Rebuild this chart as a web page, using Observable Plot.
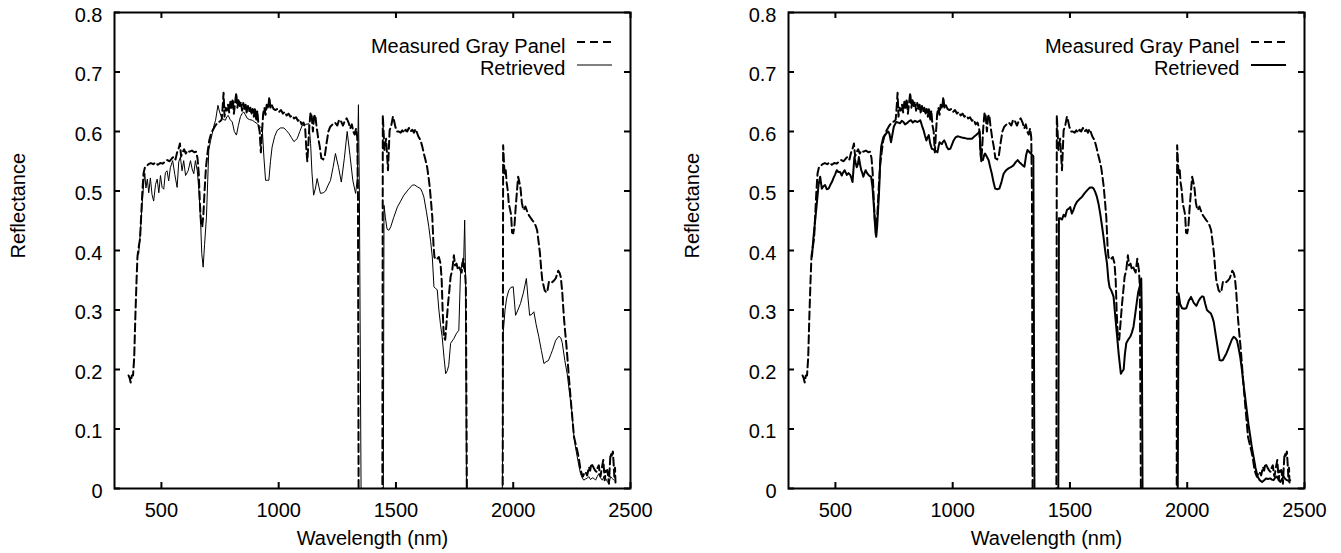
<!DOCTYPE html>
<html><head><meta charset="utf-8">
<script src="https://cdn.jsdelivr.net/npm/d3@7"></script>
<script src="https://cdn.jsdelivr.net/npm/@observablehq/plot@0.6"></script>
<style>
html,body{margin:0;padding:0;background:#fff;overflow:hidden;}
#wrap{position:relative;width:1341px;height:553px;}
#left{position:absolute;left:0;top:0;}
#right{position:absolute;left:674px;top:0;}
</style></head><body><div id="wrap"><div id="left"></div><div id="right"></div></div>
<script>
// Measured Gray Panel (same in both panels); -0.05 marks the water-band drop-outs (clipped)
const measuredWl = [360,365,369,374,379,384,389,394,398,403,409,414,419,424,430,437,445,455,465,475,485,495,505,515,525,535,545,553,560,567,574,579,584,590,597,604,611,620,630,640,648,654,659,664,669,674,679,684,690,697,704,712,720,730,740,750,757,761,765,769,774,779,784,789,794,799,804,809,814,819,824,829,834,839,844,849,854,859,864,869,874,879,884,889,894,899,904,909,914,919,924,929,934,939,944,949,955,960,965,970,978,986,994,1002,1010,1018,1026,1034,1042,1050,1058,1066,1074,1082,1090,1098,1106,1113,1118,1122,1126,1131,1136,1141,1146,1151,1156,1161,1168,1175,1182,1190,1197,1204,1212,1220,1230,1240,1250,1258,1266,1274,1282,1290,1298,1305,1312,1318,1324,1330,1335,1338,1341,
1442,1444,1451,1458,1466,1473,1480,1487,1491,1498,1505,1512,1520,1527,1534,1541,1548,1555,1562,1570,1577,1583,1588,1595,1605,1612,1619,1626,1633,1640,1644,1650,1655,1660,1664,1670,1676,1683,1690,1695,1699,1704,1710,1716,1722,1727,1733,1740,1747,1752,1758,1763,1768,1774,1780,1787,1794,1798,1803,
1955,1957,1963,1968,1972,1977,1981,1986,1991,1995,2000,2005,2010,2014,2018,2021,2026,2031,2037,2043,2048,2052,2060,2067,2074,2081,2091,2097,2102,2108,2114,2119,2124,2130,2134,2140,2145,2152,2160,2167,2175,2181,2187,2192,2198,2203,2209,2216,2221,2226,2232,2237,2243,2249,2254,2259,2266,2273,2280,2287,2292,2297,2302,2308,2315,2323,2328,2333,2339,2344,2350,2355,2360,2365,2369,2372,2378,2384,2388,2390,2395,2401,2405,2408,2412,2415,2420,2425,2429,2431,2434,2436];
const measuredR = [.19,.185,.178,.19,.19,.22,.29,.35,.39,.405,.42,.46,.5,.53,.54,.542,.545,.547,.545,.548,.544,.547,.546,.549,.552,.55,.555,.558,.553,.565,.572,.58,.558,.565,.57,.563,.568,.566,.568,.565,.566,.555,.53,.48,.445,.44,.46,.5,.54,.565,.585,.597,.603,.61,.615,.617,.62,.64,.665,.625,.64,.635,.645,.632,.65,.64,.655,.63,.648,.665,.64,.655,.643,.65,.635,.648,.638,.645,.63,.643,.633,.64,.628,.638,.625,.64,.618,.635,.61,.6,.565,.6,.63,.64,.628,.645,.638,.658,.64,.645,.638,.636,.638,.633,.636,.63,.633,.627,.63,.625,.627,.622,.624,.618,.62,.612,.615,.605,.57,.55,.575,.61,.632,.625,.6,.625,.628,.61,.59,.575,.555,.553,.56,.58,.6,.608,.612,.615,.61,.62,.617,.61,.618,.622,.615,.605,.612,.6,.595,.605,.59,.5,-.05,
-.05,.627,.569,.588,.535,.602,.61,.625,.62,.607,.6,.6,.598,.602,.598,.603,.6,.606,.6,.603,.598,.604,.6,.592,.585,.575,.563,.552,.54,.52,.507,.48,.456,.41,.389,.385,.386,.389,.378,.35,.3,.255,.25,.28,.31,.33,.356,.367,.392,.375,.378,.37,.374,.368,.363,.386,.367,.34,-.05,
-.05,.577,.529,.535,.514,.5,.479,.47,.46,.43,.429,.44,.47,.49,.51,.524,.515,.505,.48,.468,.47,.474,.465,.459,.455,.451,.446,.44,.434,.415,.395,.37,.35,.34,.333,.33,.33,.347,.345,.347,.35,.353,.36,.366,.362,.355,.33,.288,.265,.244,.215,.188,.16,.132,.11,.087,.075,.064,.05,.031,.025,.02,.025,.028,.022,.036,.03,.042,.038,.034,.03,.028,.035,.039,.025,.02,.035,.048,.025,.014,.03,.031,.02,.008,.04,.059,.055,.062,.036,.02,.035,.01];

// Retrieved, left panel
const retrievedLeftWl = [403,410,418,424,429,434,440,446,453,460,467,475,482,489,496,503,510,517,524,531,538,548,557,567,574,581,588,595,603,614,624,631,638,645,653,660,667,672,678,684,692,702,710,717,724,731,741,748,755,765,773,779,785,793,802,811,820,828,837,844,851,858,866,876,887,898,909,920,930,937,944,951,958,965,972,983,994,1008,1022,1032,1043,1054,1065,1079,1090,1100,1115,1129,1136,1142,1149,1157,1164,1171,1178,1190,1200,1211,1221,1232,1242,1255,1267,1280,1292,1304,1316,1323,1328,1335,1340,1344,1352,
1446,1449,1455,1462,1470,1478,1490,1506,1520,1534,1552,1570,1580,1591,1605,1612,1619,1630,1640,1648,1655,1662,1669,1676,1683,1690,1697,1705,1712,1719,1725,1733,1740,1747,1757,1768,1775,1782,1788,1793,1797,1801,
1953,1957,1965,1972,1981,1990,2000,2006,2010,2020,2031,2044,2056,2063,2070,2080,2088,2098,2109,2120,2131,2140,2150,2160,2167,2181,2195,2203,2209,2220,2230,2240,2248,2254,2259,2266,2273,2280,2287,2294,2301,2308,2315,2322,2330,2337,2344,2351,2358,2365,2372,2380,2387,2394,2401,2408,2415,2422,2429];
const retrievedLeftR = [.394,.43,.479,.51,.53,.505,.52,.497,.522,.494,.483,.511,.52,.497,.526,.506,.503,.531,.534,.517,.539,.551,.528,.506,.549,.557,.534,.551,.526,.534,.551,.537,.529,.551,.534,.5,.45,.395,.372,.41,.456,.569,.585,.597,.61,.619,.644,.633,.625,.62,.619,.625,.627,.62,.616,.6,.594,.61,.625,.63,.633,.628,.622,.62,.619,.616,.613,.608,.605,.557,.518,.518,.518,.55,.574,.592,.602,.606,.606,.602,.597,.59,.583,.588,.6,.61,.612,.613,.58,.53,.493,.505,.521,.508,.496,.497,.5,.51,.518,.54,.563,.54,.515,.555,.6,.56,.518,.505,.496,.52,.645,.5,-.05,
-.05,.476,.455,.436,.434,.44,.455,.473,.483,.493,.502,.51,.51,.507,.504,.498,.49,.465,.44,.415,.389,.339,.336,.334,.3,.275,.255,.22,.193,.198,.207,.244,.248,.252,.26,.266,.36,.38,.37,.451,.35,-.05,
-.05,.26,.3,.32,.333,.338,.339,.31,.291,.3,.311,.33,.353,.32,.291,.293,.297,.275,.255,.232,.21,.213,.215,.225,.232,.249,.256,.253,.245,.215,.193,.16,.137,.11,.087,.068,.053,.038,.025,.018,.014,.016,.017,.02,.015,.018,.017,.014,.02,.025,.018,.014,.02,.017,.012,.008,.02,.017,.014];

// Retrieved, right panel
const retrievedRightWl = [400,406,411,416,421,428,435,442,449,456,463,471,478,485,492,499,506,513,520,527,530,539,549,556,563,568,573,581,586,591,596,600,605,610,615,619,624,629,635,641,647,652,658,663,667,671,674,678,681,685,688,691,695,698,705,712,719,726,731,737,743,749,754,759,767,776,783,790,797,805,813,822,830,839,848,855,862,869,876,882,888,893,898,904,911,918,926,935,940,944,949,954,959,964,970,975,982,990,997,1004,1012,1021,1030,1039,1050,1061,1072,1082,1091,1100,1108,1115,1120,1125,1129,1134,1138,1145,1153,1160,1167,1174,1181,1190,1199,1208,1217,1228,1238,1248,1259,1268,1277,1285,1291,1299,1306,1313,1319,1326,1333,1340,1344,1349,
1450,1453,1459,1466,1473,1480,1487,1494,1501,1508,1515,1522,1530,1540,1551,1562,1573,1580,1587,1594,1601,1608,1615,1622,1629,1636,1643,1650,1658,1664,1669,1676,1681,1686,1693,1700,1708,1717,1723,1729,1734,1740,1748,1757,1764,1771,1779,1786,1791,1797,1804,1806,1810,
1959,1963,1970,1978,1987,1996,2006,2016,2028,2039,2048,2056,2064,2070,2077,2084,2092,2101,2107,2113,2120,2127,2133,2138,2145,2152,2160,2167,2174,2181,2190,2198,2205,2212,2219,2226,2233,2240,2247,2254,2261,2269,2276,2283,2291,2300,2309,2319,2328,2337,2345,2354,2361,2368,2375,2382,2390,2397,2404,2411,2418,2425,2432,2439];
const retrievedRightR = [.39,.42,.44,.46,.48,.51,.524,.504,.508,.51,.503,.504,.51,.515,.522,.528,.535,.532,.532,.526,.529,.535,.527,.53,.527,.522,.515,.557,.548,.54,.545,.557,.545,.535,.53,.524,.53,.535,.53,.527,.525,.524,.507,.48,.456,.43,.423,.44,.462,.49,.515,.552,.574,.58,.591,.594,.598,.6,.595,.582,.595,.608,.612,.616,.615,.614,.618,.616,.612,.614,.617,.619,.615,.618,.616,.617,.619,.61,.602,.593,.585,.59,.594,.58,.571,.57,.568,.565,.575,.582,.58,.579,.583,.585,.58,.574,.57,.571,.578,.585,.59,.592,.591,.59,.589,.588,.588,.588,.591,.594,.597,.6,.557,.553,.552,.56,.563,.558,.552,.54,.529,.515,.504,.503,.504,.515,.529,.535,.538,.54,.543,.548,.552,.548,.546,.543,.541,.56,.569,.566,.563,.56,.558,-.05,
-.05,.454,.454,.452,.46,.457,.468,.47,.473,.462,.468,.476,.482,.486,.49,.496,.501,.504,.506,.506,.504,.498,.49,.478,.462,.443,.423,.4,.378,.35,.338,.333,.328,.322,.29,.26,.225,.193,.197,.2,.225,.244,.25,.255,.262,.272,.295,.316,.33,.339,.353,.3,-.05,
-.05,.328,.31,.303,.302,.303,.315,.322,.312,.307,.315,.32,.323,.322,.31,.3,.297,.294,.288,.28,.262,.244,.228,.216,.215,.216,.222,.227,.234,.241,.25,.255,.253,.249,.236,.221,.2,.176,.153,.131,.108,.087,.068,.053,.035,.02,.014,.011,.014,.017,.016,.017,.015,.014,.018,.02,.015,.011,.016,.02,.016,.014,.013,.014];

const xTicks = [500, 1000, 1500, 2000, 2500];
const yTicks = [0, 0.1, 0.2, 0.3, 0.4, 0.5, 0.6, 0.7, 0.8];
const seriesLabels = ["Measured Gray Panel", "Retrieved"];
const xLabel = "Wavelength (nm)";
const yLabel = "Reflectance";

function toRows(wl, r) { return wl.map((w, i) => ({wl: w, r: r[i]})); }

function panel(target, {width, marginRight, retWl, retR, retWidth}) {
  const meas = toRows(measuredWl, measuredR);
  const ret = toRows(retWl, retR);
  const mL = 114, mT = 12, mB = 65, H = 553;
  const fw = width - mL - marginRight, fh = H - mT - mB;
  const chart = Plot.plot({
    width, height: H,
    marginLeft: mL, marginRight, marginTop: mT, marginBottom: mB,
    style: {fontFamily: '"Liberation Sans", Arial, Helvetica, sans-serif', fontSize: "20px", color: "black", background: "white", overflow: "visible"},
    x: {domain: [300, 2500]},
    y: {domain: [0, 0.8]},
    marks: [
      Plot.line(ret, {x: "wl", y: "r", stroke: "black", strokeWidth: retWidth, clip: true}),
      Plot.line(meas, {x: "wl", y: "r", stroke: "black", strokeWidth: 2, strokeDasharray: "8,4", clip: true}),
      Plot.tickX(xTicks, {x: d => d, insetTop: fh - 6, strokeWidth: 2}),
      Plot.tickX(xTicks, {x: d => d, insetBottom: fh - 6, strokeWidth: 2}),
      Plot.tickY(yTicks, {y: d => d, insetRight: fw - 6, strokeWidth: 2}),
      Plot.tickY(yTicks, {y: d => d, insetLeft: fw - 6, strokeWidth: 2}),
      Plot.axisX(xTicks, {tickSize: 0, tickPadding: 14, tickFormat: d => String(d), label: null}),
      Plot.axisY(yTicks, {tickSize: 0, tickPadding: 12, tickFormat: d => d === 0 ? "0" : d.toFixed(1), label: null, dy: 3}),
      Plot.frame({strokeWidth: 2}),
      Plot.text([xLabel], {text: d => d, frameAnchor: "bottom", dy: 50, lineAnchor: "middle"}),
      Plot.text([yLabel], {text: d => d, frameAnchor: "left", dx: -96, dy: 8, rotate: -90, lineAnchor: "middle"}),
      Plot.text([seriesLabels[0]], {text: d => d, frameAnchor: "top-right", textAnchor: "end", lineAnchor: "middle", dx: -65, dy: 34}),
      Plot.text([seriesLabels[1]], {text: d => d, frameAnchor: "top-right", textAnchor: "end", lineAnchor: "middle", dx: -65, dy: 56})
    ]
  });
  const fr = width - marginRight;
  const svg = d3.select(chart);
  svg.append("line").attr("x1", fr - 53).attr("x2", fr - 18).attr("y1", mT + 30).attr("y2", mT + 30)
    .attr("stroke", "black").attr("stroke-width", 2).attr("stroke-dasharray", "8,5");
  svg.append("line").attr("x1", fr - 53).attr("x2", fr - 18).attr("y1", mT + 53).attr("y2", mT + 53)
    .attr("stroke", "black").attr("stroke-width", retWidth);
  document.getElementById(target).appendChild(chart);
}

panel("left", {width: 674, marginRight: 44, retWl: retrievedLeftWl, retR: retrievedLeftR, retWidth: 1});
panel("right", {width: 667, marginRight: 37, retWl: retrievedRightWl, retR: retrievedRightR, retWidth: 2});
</script></body></html>
